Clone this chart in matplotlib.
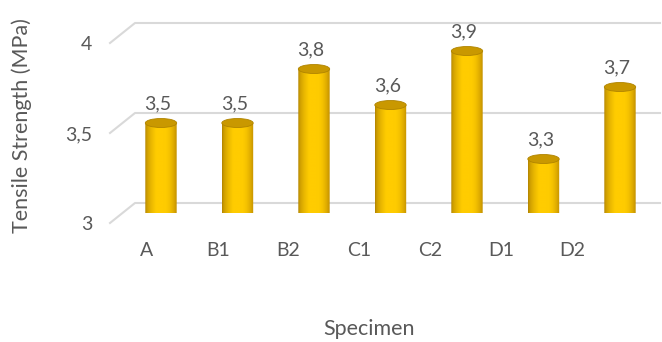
import numpy as np
import matplotlib
matplotlib.use("Agg")
import matplotlib.pyplot as plt
from matplotlib.path import Path
from matplotlib.patches import PathPatch, Ellipse
from matplotlib import transforms

categories = ["A", "B1", "B2", "C1", "C2", "D1", "D2"]
values = [3.5, 3.5, 3.8, 3.6, 3.9, 3.3, 3.7]
y_ticks = [3, 3.5, 4]
y_tick_labels = ["3", "3,5", "4"]
value_labels = ["3,5", "3,5", "3,8", "3,6", "3,9", "3,3", "3,7"]

plt.rcParams['font.family'] = ['Lato', 'DejaVu Sans']
TXT = "#595959"
GRID = "#D9D9D9"
W, H = 662, 342
fig = plt.figure(figsize=(W / 100, H / 100), dpi=100)
fig.patch.set_facecolor("white")

def fr(left, bottom_px, width, height):
    return [left / W, (H - bottom_px) / H, width / W, height / H]

# front plane axes (tick labels + grid)
ax_f = fig.add_axes(fr(111.6, 223, 495.6, 180))
ax_f.set_xlim(-0.5, 6.5)
ax_f.set_ylim(3, 4)
ax_f.patch.set_visible(False)
for s in ax_f.spines.values():
    s.set_visible(False)
ax_f.set_yticks(y_ticks)
ax_f.set_yticklabels(y_tick_labels)
ax_f.set_xticks(range(len(categories)))
ax_f.set_xticklabels(categories)
ax_f.tick_params(axis='y', length=0, pad=14, labelsize=14, labelcolor=TXT)
ax_f.tick_params(axis='x', length=0, pad=14, labelsize=14, labelcolor=TXT)

# back wall gridlines with floor/side diagonal
blend = transforms.blended_transform_factory(fig.transFigure, ax_f.transData)
dv = 20 / 180
for v in y_ticks:
    ax_f.plot([110 / W, 135 / W, 660 / W], [v, v + dv, v + dv], color=GRID,
              lw=1.5, transform=blend, clip_on=False, zorder=0)

fig.text(22 / W, 1 - 126 / H, "Tensile Strength (MPa)", rotation=90, ha='center',
         va='center', fontsize=15.5, color=TXT)
fig.text(369 / W, 1 - 329 / H, "Specimen", ha='center', va='center',
         fontsize=15.5, color=TXT)

# bar plane axes
ax_b = fig.add_axes(fr(122.75, 213, 535.5, 180))
ax_b.set_xlim(-0.5, 6.5)
ax_b.set_ylim(3, 4)
ax_b.axis('off')

bw = 0.41
eh = 0.05
grad_x = np.linspace(0, 1, 200)
c_left = np.array([0.66, 0.48, 0.0])
c_peak = np.array([1.0, 0.80, 0.0])
c_right = np.array([0.76, 0.56, 0.0])
cols = []
for t in grad_x:
    if t < 0.35:
        f = (t / 0.35) ** 0.5
        cols.append(c_left * (1 - f) + c_peak * f)
    elif t < 0.6:
        cols.append(c_peak)
    else:
        f = ((t - 0.6) / 0.4) ** 2
        cols.append(c_peak * (1 - f) + c_right * f)
grad = np.array(cols)[None, :, :]

theta = np.linspace(np.pi, 2 * np.pi, 40)
for i, (v, lab) in enumerate(zip(values, value_labels)):
    x0, x1 = i - bw / 2, i + bw / 2
    ex = i + (bw / 2) * np.cos(theta)
    ey = 3 + (eh / 2) * np.sin(theta)
    verts = [(x0, v)] + list(zip(ex, ey)) + [(x1, v), (x0, v)]
    codes = [Path.MOVETO] + [Path.LINETO] * (len(verts) - 2) + [Path.CLOSEPOLY]
    clip = PathPatch(Path(verts, codes), transform=ax_b.transData, fc='none', ec='none')
    ax_b.add_patch(clip)
    im = ax_b.imshow(grad, extent=(x0, x1, 3 - eh, v), aspect='auto',
                     interpolation='bilinear', zorder=2)
    im.set_clip_path(clip)
    top = Ellipse((i, v), bw, eh, facecolor="#C99800", edgecolor="#B08400",
                  lw=0.6, zorder=3, clip_on=False)
    ax_b.add_patch(top)
    ax_b.annotate(lab, (i, v), xytext=(-3, 19), textcoords='offset pixels',
                  ha='center', va='center', fontsize=14, color=TXT,
                  annotation_clip=False)

fig.savefig("out.png", dpi=100, facecolor="white")
